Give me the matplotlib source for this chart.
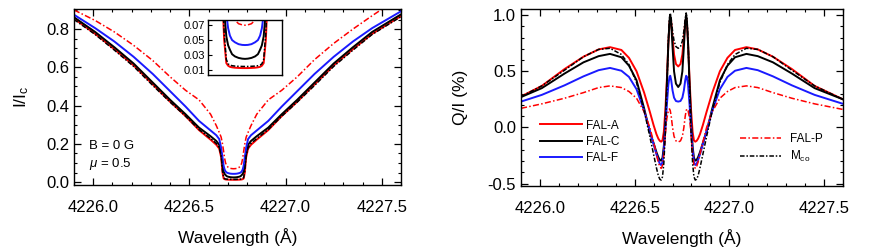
import matplotlib
matplotlib.use("Agg")
import matplotlib.pyplot as plt
import numpy as np

plt.rcParams['font.family'] = ['Liberation Sans', 'DejaVu Sans']
plt.rcParams['mathtext.fontset'] = 'custom'
plt.rcParams['mathtext.rm'] = 'Liberation Sans'
plt.rcParams['mathtext.it'] = 'Liberation Sans:italic'

wl0 = 4226.73  # line centre (A)

# ---- left panel: I/Ic, offsets from line centre (A)
dl_I = [-0.83, -0.72, -0.62, -0.52, -0.42, -0.33, -0.25, -0.18, -0.12, -0.09, -0.075,
        -0.065, -0.058, -0.052, -0.047, -0.042, -0.036, -0.028, -0.018, -0.008, 0.0,
        0.008, 0.018, 0.028, 0.036, 0.042, 0.047, 0.052, 0.058, 0.065,
        0.075, 0.09, 0.12, 0.18, 0.25, 0.33, 0.42, 0.52, 0.62, 0.72, 0.87]
I_A = [0.855, 0.775, 0.695, 0.61, 0.51, 0.42, 0.345, 0.272, 0.222, 0.195, 0.175,
       0.13, 0.05, 0.019, 0.0155, 0.014, 0.0133, 0.0128, 0.0125, 0.0123, 0.0123,
       0.0123, 0.0125, 0.0128, 0.0133, 0.014, 0.0155, 0.019, 0.05, 0.13,
       0.175, 0.195, 0.222, 0.272, 0.345, 0.42, 0.51, 0.61, 0.695, 0.775, 0.868]
I_C = [0.862, 0.785, 0.705, 0.62, 0.52, 0.43, 0.355, 0.285, 0.24, 0.215, 0.195,
       0.15, 0.09, 0.055, 0.043, 0.037, 0.031, 0.028, 0.026, 0.025, 0.0247,
       0.025, 0.026, 0.028, 0.031, 0.037, 0.043, 0.055, 0.09, 0.15,
       0.195, 0.215, 0.24, 0.285, 0.355, 0.43, 0.52, 0.62, 0.705, 0.785, 0.877]
I_F = [0.875, 0.805, 0.735, 0.655, 0.565, 0.475, 0.395, 0.32, 0.27, 0.245, 0.225,
       0.18, 0.13, 0.085, 0.066, 0.056, 0.050, 0.047, 0.0445, 0.0435, 0.0433,
       0.0435, 0.0445, 0.047, 0.050, 0.056, 0.066, 0.085, 0.13, 0.18,
       0.225, 0.245, 0.27, 0.32, 0.395, 0.475, 0.565, 0.655, 0.735, 0.805, 0.893]
I_P = [0.90, 0.845, 0.785, 0.715, 0.635, 0.55, 0.48, 0.43, 0.355, 0.295, 0.26,
       0.235, 0.20, 0.16, 0.125, 0.10, 0.086, 0.077, 0.072, 0.0705, 0.070,
       0.0705, 0.072, 0.077, 0.086, 0.10, 0.125, 0.16, 0.20, 0.235,
       0.26, 0.295, 0.355, 0.43, 0.48, 0.55, 0.64, 0.725, 0.80, 0.87, 0.97]
I_M = [0.85, 0.772, 0.69, 0.605, 0.505, 0.418, 0.345, 0.275, 0.228, 0.202, 0.18,
       0.14, 0.06, 0.024, 0.018, 0.0163, 0.0155, 0.015, 0.0147, 0.0145, 0.0145,
       0.0145, 0.0147, 0.015, 0.0155, 0.0163, 0.018, 0.024, 0.06, 0.14,
       0.18, 0.202, 0.228, 0.275, 0.345, 0.418, 0.505, 0.605, 0.69, 0.772, 0.865]

# ---- right panel: Q/I (%)
dl_Q = [-0.83, -0.72, -0.6, -0.5, -0.42, -0.36, -0.3, -0.26, -0.22, -0.18, -0.15,
        -0.13, -0.115, -0.105, -0.097, -0.09, -0.083, -0.076, -0.068, -0.06, -0.052,
        -0.046, -0.042, -0.037, -0.03, -0.022, -0.012, 0.0,
        0.012, 0.022, 0.03, 0.037, 0.042, 0.046,
        0.052, 0.06, 0.068, 0.076, 0.083, 0.09, 0.097, 0.105, 0.115, 0.13,
        0.15, 0.18, 0.22, 0.26, 0.3, 0.36, 0.42, 0.5, 0.6, 0.72, 0.87]
Q_A = [0.275, 0.37, 0.52, 0.63, 0.695, 0.715, 0.69, 0.62, 0.50, 0.31, 0.14,
       0.02, -0.06, -0.10, -0.12, -0.127, -0.115, -0.04, 0.15, 0.42, 0.75,
       0.93, 0.975, 0.94, 0.80, 0.65, 0.565, 0.543,
       0.565, 0.65, 0.80, 0.94, 0.975, 0.93,
       0.75, 0.42, 0.15, -0.04, -0.115, -0.127, -0.12, -0.10, -0.06, 0.02,
       0.14, 0.31, 0.50, 0.62, 0.69, 0.715, 0.695, 0.63, 0.52, 0.37, 0.25]
Q_C = [0.27, 0.35, 0.48, 0.58, 0.635, 0.655, 0.625, 0.55, 0.42, 0.17, -0.04,
       -0.14, -0.22, -0.265, -0.29, -0.296, -0.27, -0.17, 0.05, 0.38, 0.75,
       0.95, 1.0, 0.93, 0.72, 0.50, 0.39, 0.36,
       0.39, 0.50, 0.72, 0.93, 1.0, 0.95,
       0.75, 0.38, 0.05, -0.17, -0.27, -0.296, -0.29, -0.265, -0.22, -0.14,
       -0.04, 0.17, 0.42, 0.55, 0.625, 0.655, 0.635, 0.58, 0.48, 0.35, 0.25]
Q_F = [0.23, 0.29, 0.375, 0.455, 0.51, 0.53, 0.505, 0.45, 0.34, 0.15, -0.03,
       -0.15, -0.24, -0.29, -0.325, -0.335, -0.31, -0.21, -0.02, 0.20, 0.38,
       0.45, 0.46, 0.42, 0.33, 0.265, 0.235, 0.23,
       0.235, 0.265, 0.33, 0.42, 0.46, 0.45,
       0.38, 0.20, -0.02, -0.21, -0.31, -0.335, -0.325, -0.29, -0.24, -0.15,
       -0.03, 0.15, 0.34, 0.45, 0.505, 0.53, 0.51, 0.455, 0.375, 0.29, 0.21]
Q_P = [0.17, 0.21, 0.26, 0.31, 0.355, 0.37, 0.355, 0.32, 0.26, 0.14, 0.0,
       -0.13, -0.24, -0.31, -0.35, -0.365, -0.34, -0.24, -0.06, 0.08, 0.15,
       0.165, 0.15, 0.10, 0.0, -0.08, -0.12, -0.13,
       -0.12, -0.08, 0.0, 0.10, 0.15, 0.165,
       0.15, 0.08, -0.06, -0.24, -0.34, -0.365, -0.35, -0.31, -0.24, -0.13,
       0.0, 0.14, 0.26, 0.32, 0.355, 0.37, 0.355, 0.31, 0.26, 0.21, 0.16]
Q_M = [0.275, 0.37, 0.51, 0.63, 0.695, 0.705, 0.65, 0.56, 0.40, 0.15, -0.08,
       -0.24, -0.36, -0.43, -0.462, -0.469, -0.44, -0.32, -0.05, 0.33, 0.78,
       0.98, 1.02, 0.97, 0.86, 0.77, 0.72, 0.705,
       0.72, 0.77, 0.86, 0.97, 1.02, 0.98,
       0.78, 0.33, -0.05, -0.32, -0.44, -0.469, -0.462, -0.43, -0.36, -0.24,
       -0.08, 0.15, 0.40, 0.56, 0.65, 0.705, 0.695, 0.63, 0.51, 0.37, 0.25]

wl_I = wl0 + np.array(dl_I)
wl_Q = wl0 + np.array(dl_Q)

red, blue = '#ff0000', '#1a1aff'
dd = (0, (4, 1.5, 1, 1.5))
ddk = (0, (3, 1.2, 1, 1.2))
styles = [  # label, colour, linestyle, width
    ('FAL-A', red, '-', 1.4),
    ('FAL-C', 'black', '-', 1.4),
    ('FAL-F', blue, '-', 1.4),
    ('FAL-P', red, dd, 1.1),
    (r'M$_{\rm co}$', 'black', ddk, 1.1),
]


def style_axes(ax, fs=12):
    ax.tick_params(which='both', direction='in', top=True, right=True, labelsize=fs)
    ax.tick_params(which='major', length=5, width=0.9)
    ax.tick_params(which='minor', length=2.5, width=0.8)
    ax.tick_params(axis='x', which='major', pad=11)
    for s in ax.spines.values():
        s.set_linewidth(1.0)


fig = plt.figure(figsize=(8.83, 2.52), dpi=100)
W, H = 883.0, 252.0

# ---------- I/Ic
ax1 = fig.add_axes([74 / W, 1 - 185 / H, 327 / W, 176 / H])
for (lab, c, ls, lw), y in zip(styles, [I_A, I_C, I_F, I_P, I_M]):
    ax1.plot(wl_I, y, color=c, ls=ls, lw=lw)
ax1.set_xlim(4225.9, 4227.6)
ax1.set_ylim(-0.015, 0.905)
ax1.set_xticks([4226.0, 4226.5, 4227.0, 4227.5])
ax1.set_xticks(np.arange(4225.9, 4227.61, 0.1), minor=True)
ax1.set_yticks([0.0, 0.2, 0.4, 0.6, 0.8])
ax1.set_yticks(np.arange(0.0, 0.901, 0.05), minor=True)
ax1.xaxis.set_major_formatter(plt.FormatStrFormatter('%.1f'))
ax1.yaxis.set_major_formatter(plt.FormatStrFormatter('%.1f'))
style_axes(ax1)
ax1.set_xlabel('Wavelength (Å)', fontsize=12.5, labelpad=9)
ax1.set_ylabel(r'I/I$_{\rm c}$', fontsize=12.5, labelpad=11)
ax1.text(0.045, 0.223, 'B = 0 G', transform=ax1.transAxes, fontsize=9.5, va='center')
ax1.text(0.045, 0.12, r'$\mu$ = 0.5', transform=ax1.transAxes, fontsize=9.5, va='center')

# inset
axi = fig.add_axes([208 / W, 1 - 75 / H, 74 / W, 55 / H])
for (lab, c, ls, lw), y in zip(styles, [I_A, I_C, I_F, I_P, I_M]):
    axi.plot(wl_I, y, color=c, ls=ls, lw=lw)
axi.set_xlim(wl0 - 0.103, wl0 + 0.103)
axi.set_ylim(0.003, 0.077)
axi.set_yticks([0.01, 0.03, 0.05, 0.07])
axi.set_xticks([])
axi.yaxis.set_major_formatter(plt.FormatStrFormatter('%.2f'))
axi.tick_params(direction='in', labelsize=8, length=3, pad=2)
for s in axi.spines.values():
    s.set_linewidth(1.0)

# ---------- Q/I
ax2 = fig.add_axes([521 / W, 1 - 186 / H, 322 / W, 177 / H])
lines = []
for (lab, c, ls, lw), y in zip(styles, [Q_A, Q_C, Q_F, Q_P, Q_M]):
    ln, = ax2.plot(wl_Q, y, color=c, ls=ls, lw=lw, label=lab)
    lines.append(ln)
ax2.set_xlim(4225.9, 4227.6)
ax2.set_ylim(-0.522, 1.055)
ax2.set_xticks([4226.0, 4226.5, 4227.0, 4227.5])
ax2.set_xticks(np.arange(4225.9, 4227.61, 0.1), minor=True)
ax2.set_yticks([-0.5, 0.0, 0.5, 1.0])
ax2.set_yticks(np.arange(-0.5, 1.05, 0.1), minor=True)
ax2.xaxis.set_major_formatter(plt.FormatStrFormatter('%.1f'))
ax2.yaxis.set_major_formatter(plt.FormatStrFormatter('%.1f'))
style_axes(ax2)
ax2.set_xlabel('Wavelength (Å)', fontsize=12.5, labelpad=9)
ax2.set_ylabel('Q/I (%)', fontsize=12.5, labelpad=14)

leg1 = ax2.legend(handles=lines[:3], loc='upper left', bbox_to_anchor=(0.06, 0.375),
                  frameon=False, fontsize=8.5, handlelength=3.5, handletextpad=0.4,
                  labelspacing=0.35, borderpad=0, borderaxespad=0)
ax2.add_artist(leg1)
ax2.legend(handles=lines[3:], loc='upper left', bbox_to_anchor=(0.68, 0.30),
           frameon=False, fontsize=8.5, handlelength=3.5, handletextpad=0.7,
           labelspacing=0.35, borderpad=0, borderaxespad=0)

fig.savefig('out.png', dpi=100)
